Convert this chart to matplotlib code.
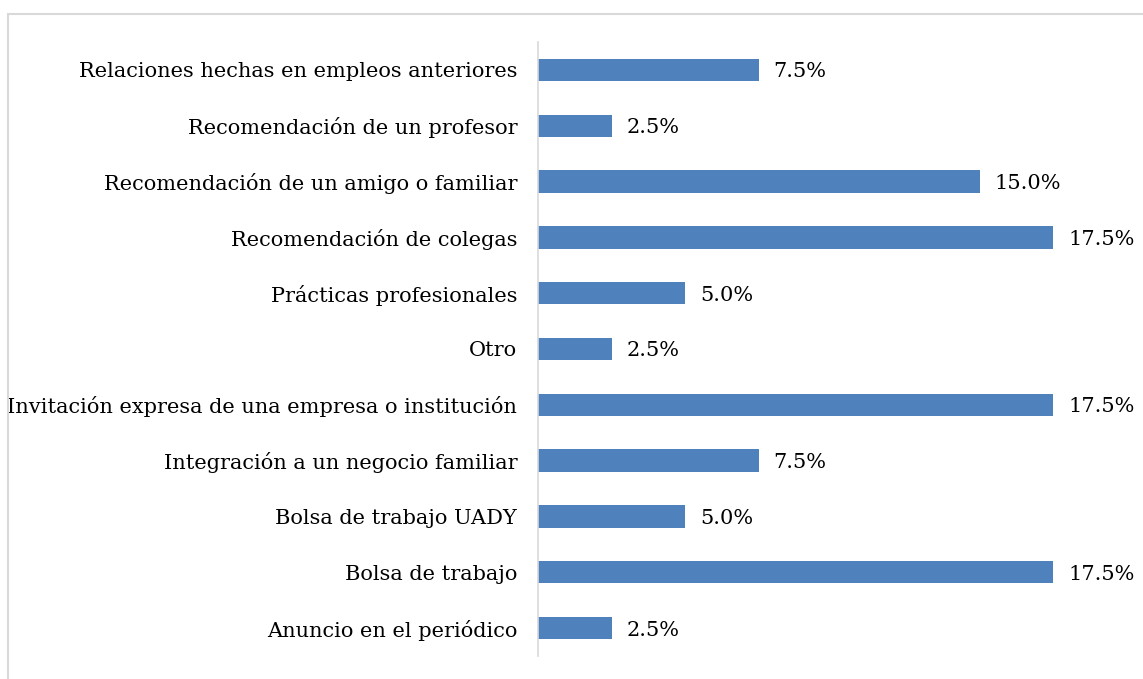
import matplotlib.pyplot as plt
from matplotlib.patches import Rectangle

categories = [
    "Anuncio en el periódico",
    "Bolsa de trabajo",
    "Bolsa de trabajo UADY",
    "Integración a un negocio familiar",
    "Invitación expresa de una empresa o institución",
    "Otro",
    "Prácticas profesionales",
    "Recomendación de colegas",
    "Recomendación de un amigo o familiar",
    "Recomendación de un profesor",
    "Relaciones hechas en empleos anteriores",
]
values = [2.5, 17.5, 5.0, 7.5, 17.5, 2.5, 5.0, 17.5, 15.0, 2.5, 7.5]

BAR_COLOR = "#4f81bd"
GRID_COLOR = "#d9d9d9"

plt.rcParams["font.family"] = ["DejaVu Serif"]

fig = plt.figure(figsize=(11.43, 6.79), dpi=100)
# outer chart border (runs off the right and bottom edges like the original)
fig.patches.append(Rectangle((8 / 1143, -0.05), 1.2, 1 - 14 / 679 + 0.05,
                             transform=fig.transFigure, fill=False,
                             edgecolor=GRID_COLOR, linewidth=1.5))

ax = fig.add_axes([538 / 1143, 23 / 679, (1127 - 538) / 1143, (637 - 23) / 679])
y = range(len(categories))
ax.barh(y, values, height=0.4, color=BAR_COLOR)

for yi, v in zip(y, values):
    ax.text(v + 0.5, yi, f"{v:.1f}%", va="center_baseline", ha="left",
            fontsize=15)

ax.set_xlim(0, 20)
ax.set_ylim(-0.5, len(categories) - 0.5)
ax.set_yticks(list(y))
ax.set_yticklabels(categories, fontsize=15)
ax.tick_params(axis="y", length=0, pad=15)
ax.set_xticks([])
for side in ["top", "right", "bottom"]:
    ax.spines[side].set_visible(False)
ax.spines["left"].set_color(GRID_COLOR)
ax.spines["left"].set_linewidth(1.2)

fig.savefig("out.png", dpi=100)
